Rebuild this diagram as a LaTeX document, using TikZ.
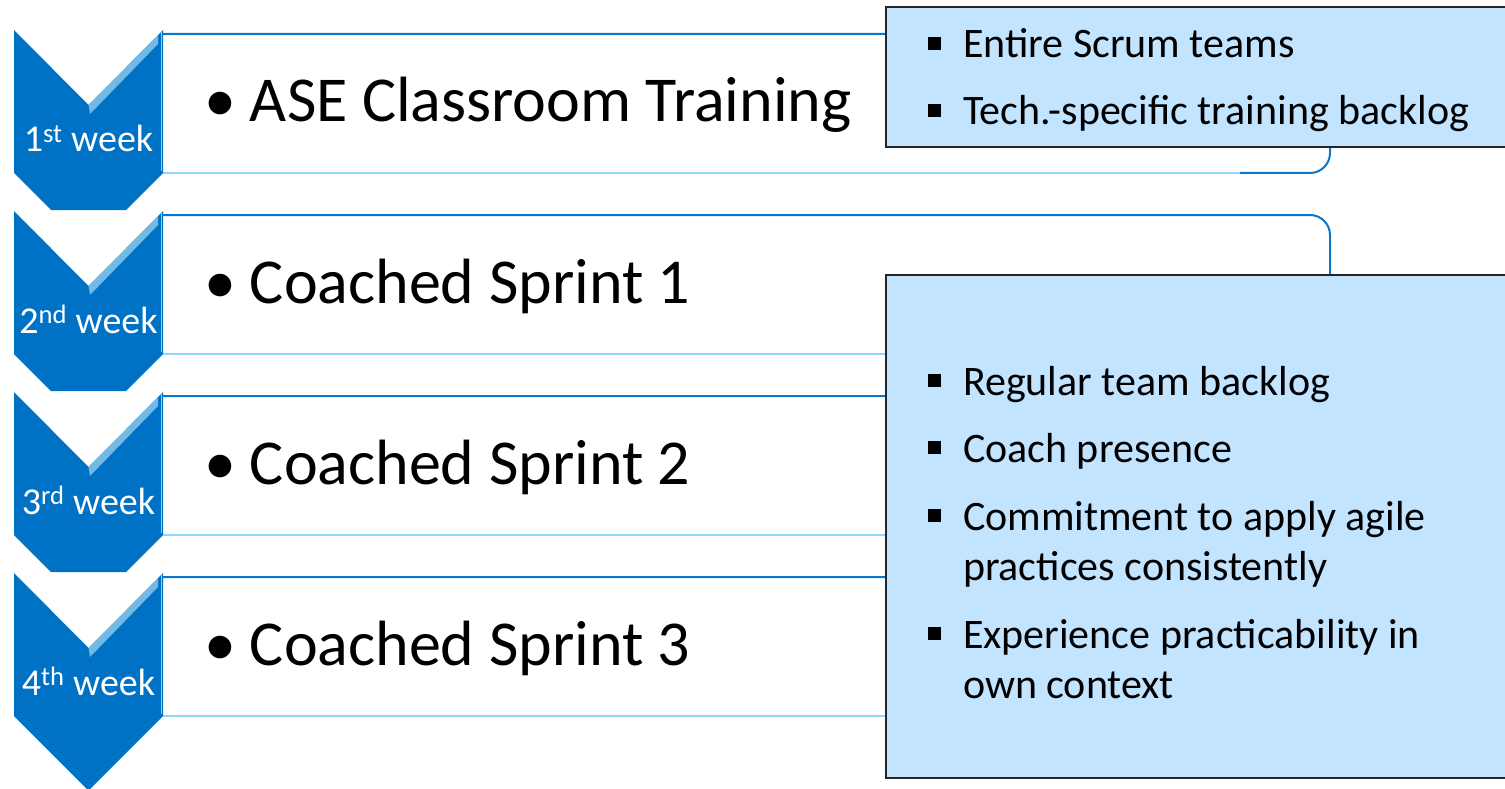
\documentclass[tikz,border=0pt]{standalone}
\usepackage{fontspec}
\setmainfont{Carlito}
\usepackage{tikz}

\definecolor{chevblue}{RGB}{0,114,198}
\definecolor{rowline}{RGB}{10,118,204}
\definecolor{rowlight}{RGB}{140,215,250}
\definecolor{notebg}{RGB}{194,228,255}
\newcommand{\sqbullet}{\rule[8pt]{13pt}{13pt}\hspace{22pt}}

\begin{document}
\begin{tikzpicture}[
		x=1pt, y=-1pt,
		every node/.style={inner sep=0pt, outer sep=0pt},
		week/.style={anchor=base, text=white, font=\fontsize{38}{38}\selectfont},
		task/.style={anchor=base west, font=\fontsize{64}{64}\selectfont},
		note/.style={anchor=base west, font=\fontsize{42}{50}\selectfont},
		notebox/.style={draw=black!85, line width=1.6pt, fill=notebg, anchor=north west, minimum width=622pt}
	]
  \useasboundingbox (0,0) rectangle (1505,789);

  % one row per week: bar, chevron, labels
  \foreach \i/\wk/\lab in {0/1\textsuperscript{st}/ASE Classroom Training,
                           1/2\textsuperscript{nd}/Coached Sprint 1,
                           2/3\textsuperscript{rd}/Coached Sprint 2,
                           3/4\textsuperscript{th}/Coached Sprint 3} {
    \pgfmathsetmacro{\y}{30+181*\i}
    \pgfmathsetmacro{\cut}{\i<3 ? 180 : 216}
    \fill[white] (163,\y+4) {[rounded corners=20pt] -- (1330,\y+4) -- (1330,\y+143) -- (1200,\y+143)} -- (163,\y+143) -- cycle;
    \draw[rowline, line width=2pt] (163,\y+4) {[rounded corners=20pt] -- (1330,\y+4) -- (1330,\y+143) -- (1240,\y+143)};
    \draw[rowlight, line width=2pt] (1240,\y+143) -- (163,\y+143);
    \fill[chevblue] (14,\y) -- (88.5,\y+75) -- (163,\y) -- (163,\y+143)
      -- ({163-(\cut-143)},\y+\cut) -- ({14+(\cut-143)},\y+\cut) -- (14,\y+143) -- cycle;
    \fill[cyan!25!white, opacity=0.6] (88.5,\y+75) -- (158,\y+5) -- (158,\y+14) -- (90,\y+84) -- cycle;
    \draw[white, opacity=0.6, line width=1pt] (161,\y+2) -- (161,\y+141);
    \node (wk\i) [week] at (88.5,\y+122) {\wk\ week};
    \node (task\i) [task] at (204,\y+92) {\makebox[46pt][l]{\textbullet}\lab};
  }

  % notes
  \node (topnote) [notebox, minimum height=140pt] at (886,7) {};
  \node (mainnote) [notebox, minimum height=503pt] at (886,275) {};

  \foreach \xx/\yy/\t [count=\k] in {928/58/{\sqbullet Entire Scrum teams},
                                     928/125/{\sqbullet Tech.-specific training backlog},
                                     928/395/{\sqbullet Regular team backlog},
                                     928/462/{\sqbullet Coach presence},
                                     928/530/{\sqbullet Commitment to apply agile},
                                     963/580/{practices consistently},
                                     928/648/{\sqbullet Experience practicability in},
                                     963/698/{own context}}
    \node (item\k) [note] at (\xx,\yy) {\t};
\end{tikzpicture}
\end{document}
